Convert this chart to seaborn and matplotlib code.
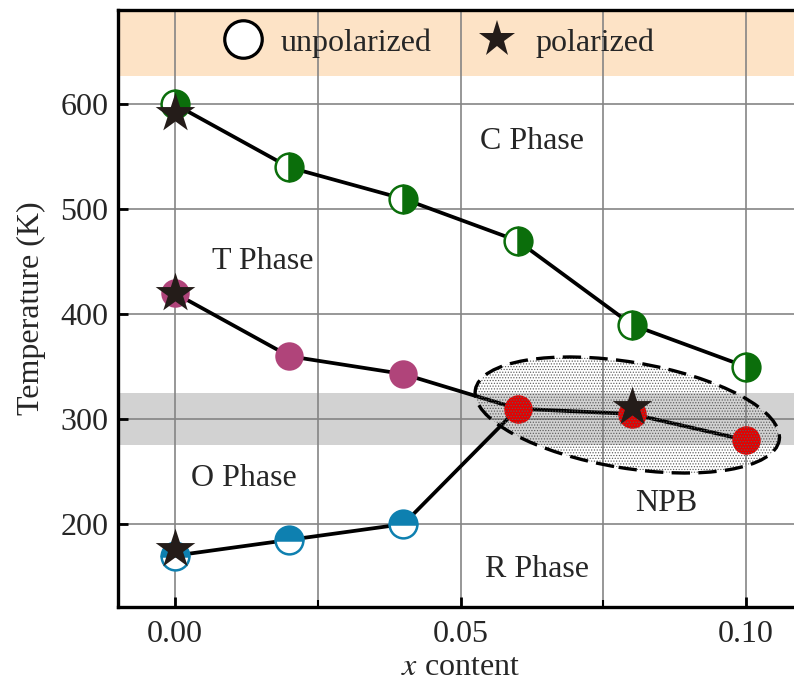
import matplotlib
matplotlib.use("Agg")
import matplotlib.pyplot as plt
import seaborn as sns
import pandas as pd
from matplotlib.patches import Ellipse
from matplotlib.lines import Line2D
from matplotlib.transforms import Affine2D, ScaledTranslation
from matplotlib.ticker import MultipleLocator, FormatStrFormatter

# Phase-transition temperatures (K) versus composition x
x_ct = [0.00, 0.02, 0.04, 0.06, 0.08, 0.10]
t_ct = [600, 540, 510, 470, 390, 350]          # C <-> T
x_to = [0.00, 0.02, 0.04]
t_to = [420, 360, 343]                          # T <-> O
x_npb = [0.06, 0.08, 0.10]
t_npb = [310, 305, 280]                         # NPB region
x_or = [0.00, 0.02, 0.04]
t_or = [170, 185, 200]                          # O <-> R
x_pol = [0.00, 0.00, 0.00, 0.08]
t_pol = [592, 420, 176, 312]                    # polarized samples

phase_names = ["C Phase", "T Phase", "O Phase", "R Phase", "NPB"]
phase_x = [0.0625, 0.0154, 0.0121, 0.0634, 0.086]
phase_t = [565, 450, 243, 157, 220]

GREEN = "#0b6e0b"
BLUE = "#0e80b0"
PURPLE = "#b0447a"
RED = "#e60000"
STAR = "#241c19"
FS = 23

sns.set_theme(style="white")
plt.rcParams["font.family"] = ["Liberation Serif", "DejaVu Serif"]
plt.rcParams["mathtext.fontset"] = "stix"
plt.rcParams["hatch.linewidth"] = 0.55

fig = plt.figure(figsize=(7.94, 6.84), dpi=100)
ax = fig.add_axes([118 / 794, 1 - 607 / 684, 684 / 794, 597 / 684])

ax.set_xlim(-0.01, 0.1098)
ax.set_ylim(121, 690)

# background bands
ax.axhspan(627, 700, color="#fde3c6", zorder=0, lw=0)
ax.axhspan(275, 325, color="#d2d2d2", zorder=0, lw=0)

# connecting lines
line_ct = pd.DataFrame({"x": x_ct, "t": t_ct})
line_tn = pd.DataFrame({"x": x_to + x_npb, "t": t_to + t_npb})
line_on = pd.DataFrame({"x": x_or + x_npb[:1], "t": t_or + t_npb[:1]})
for df in (line_ct, line_tn, line_on):
    sns.lineplot(data=df, x="x", y="t", sort=False, estimator=None,
                 color="black", lw=2.7, ax=ax, zorder=3)

# half-filled markers
ax.plot(x_ct, t_ct, ls="none", marker="o", ms=20, fillstyle="right",
        markerfacecolor=GREEN, markerfacecoloralt="white",
        markeredgecolor=GREEN, mew=1.8, zorder=4)
ax.plot(x_or, t_or, ls="none", marker="o", ms=20, fillstyle="top",
        markerfacecolor=BLUE, markerfacecoloralt="white",
        markeredgecolor=BLUE, mew=1.8, zorder=4)

# filled markers
sns.scatterplot(x=x_to, y=t_to, color=PURPLE, s=420, linewidth=0,
                ax=ax, zorder=4)
sns.scatterplot(x=x_npb, y=t_npb, color=RED, s=420, linewidth=0,
                ax=ax, zorder=4)

# NPB region (drawn in pixel units around a data-space centre)
ell_tr = Affine2D().scale(fig.dpi / 100) + ScaledTranslation(0.0792, 304, ax.transData)
npb_fill = Ellipse((0, 0), width=308, height=106, angle=-9.4,
                   facecolor="none", edgecolor="#5c5c5c", lw=0,
                   hatch="......", transform=ell_tr, zorder=5)
npb_edge = Ellipse((0, 0), width=308, height=106, angle=-9.4,
                   facecolor="none", edgecolor="black", lw=2.4,
                   linestyle=(0, (5.5, 2.5)), transform=ell_tr, zorder=5)
ax.add_patch(npb_fill)
ax.add_patch(npb_edge)

# polarized points
sns.scatterplot(x=x_pol, y=t_pol, marker="*", color=STAR, s=900,
                linewidth=0, ax=ax, zorder=6)

for name, px, pt in zip(phase_names, phase_x, phase_t):
    ax.text(px, pt, name, ha="center", va="center", fontsize=FS, zorder=7)

# axes styling
ax.xaxis.set_major_locator(MultipleLocator(0.05))
ax.xaxis.set_minor_locator(MultipleLocator(0.025))
ax.yaxis.set_major_locator(MultipleLocator(100))
ax.xaxis.set_major_formatter(FormatStrFormatter("%.2f"))
ax.grid(True, which="both", axis="x", color="#858585", lw=1.2)
ax.grid(True, which="major", axis="y", color="#858585", lw=1.2)
ax.set_axisbelow(True)
for sp in ax.spines.values():
    sp.set_color("black")
    sp.set_linewidth(2.4)
ax.tick_params(axis="both", which="major", direction="in", length=7,
               width=2, labelsize=FS, color="black", pad=7)
ax.tick_params(axis="x", which="minor", direction="in", length=5,
               width=1.5, color="black", bottom=True)
ax.tick_params(axis="x", which="major", bottom=True, pad=9)
ax.tick_params(axis="y", which="major", left=True)

ax.set_xlabel(r"$x$ content", fontsize=FS, labelpad=3)
ax.set_ylabel("Temperature (K)", fontsize=FS, labelpad=10)

handles = [
    Line2D([], [], ls="none", marker="o", ms=27, mfc="white", mec="black", mew=2.3),
    Line2D([], [], ls="none", marker="*", ms=28, mfc=STAR, mec=STAR, mew=0),
]
ax.legend(handles, ["unpolarized", "polarized"], loc="center",
          bbox_to_anchor=(0.466, 0.945), ncol=2, frameon=False, fontsize=FS,
          handlelength=1.5, handletextpad=0.45, columnspacing=1.3, borderpad=0)

fig.savefig("out.png", dpi=100)
